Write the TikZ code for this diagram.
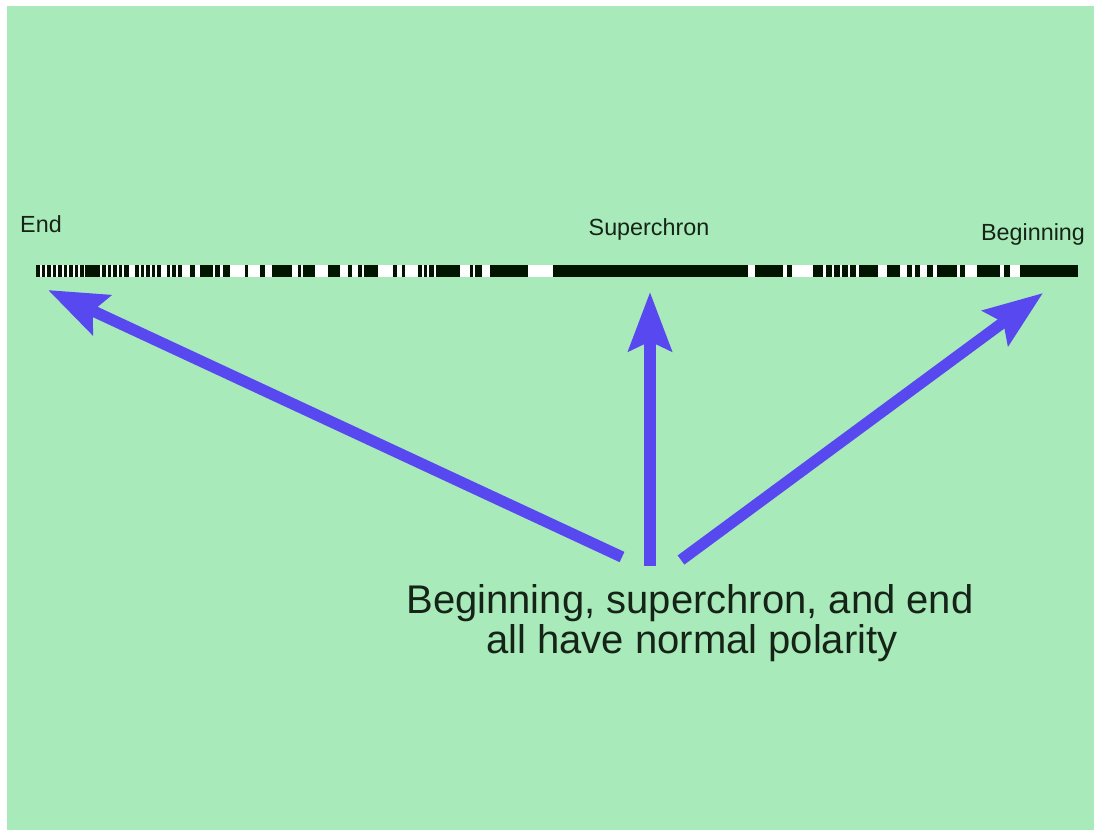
\documentclass[tikz,border=0pt]{standalone}
\usepackage{fontspec}
\setmainfont{Liberation Sans}
\usetikzlibrary{arrows.meta}
\definecolor{bggreen}{RGB}{168,234,186}
\definecolor{arrowblue}{RGB}{88,72,240}
\definecolor{txt}{RGB}{22,36,24}
\begin{document}
\begin{tikzpicture}[x=0.75pt,y=-0.75pt,
  lbl/.style={text=txt,font=\fontsize{17.5}{20}\selectfont,anchor=base,inner sep=0pt},
  big/.style={text=txt,font=\fontsize{30}{36}\selectfont,anchor=base,inner sep=0pt},
  bigarrow/.style={draw=arrowblue,line width=8.5pt,-{Stealth[length=44pt,width=32pt,inset=7pt]}},
  pt/.style={inner sep=0pt,minimum size=0pt}]
\useasboundingbox (0,0) rectangle (1094,829);
\fill[white] (0,0) rectangle (1094,829);
\fill[bggreen] (7,6) rectangle (1100,835);
% polarity bar
\fill[white] (36,265) rectangle (1078,277);
\foreach \a/\b in {36/39.5,41.5/45,47/50.5,52.5/56,58/61.5,63.5/67,69/72.5,74.5/78,80/83.5,85/100,
  102/105.5,107.5/111,113/116.5,118.5/122,124/129,
  135/138.5,140.5/144,146/149.5,151.5/155,157/161,
  167/170,172/175.5,177.5/182,190/195,200/213,215/220,223/230,245/248,260/265,272/292,
  298/301,303/315,328/340,348/352,358/362,364/378,393/397,402/405,418/422,424/427,429/434,436/460,
  470/473,475/482,490/528,553/748,755/783,787/792,813/823,826/832,834/840,842/848,850/856,859/878,
  887/900,907/912,915/920,927/933,937/957,960/965,977/1000,1004/1010,1020/1078}
  \fill[black!92!green] (\a,265) rectangle (\b,277);
% labels
\node[lbl] (endl) at (41,232) {End};
\node[lbl] (sup) at (649,235) {Superchron};
\node[lbl] (beg) at (1033,240) {Beginning};
\node[big] (line1) at (690,613) {Beginning, superchron, and end};
\node[big] (line2) at (692,653) {all have normal polarity};
% arrow ends
\node[pt] (tailL) at (622,557) {};
\node[pt] (tailM) at (650,566) {};
\node[pt] (tailR) at (681,560) {};
\node[pt] (tipL) at (48,290) {};
\node[pt] (tipM) at (650,292) {};
\node[pt] (tipR) at (1043,293) {};
\draw[bigarrow] (tailL.center) -- (tipL.center);
\draw[bigarrow] (tailM.center) -- (tipM.center);
\draw[bigarrow] (tailR.center) -- (tipR.center);
\end{tikzpicture}
\end{document}
